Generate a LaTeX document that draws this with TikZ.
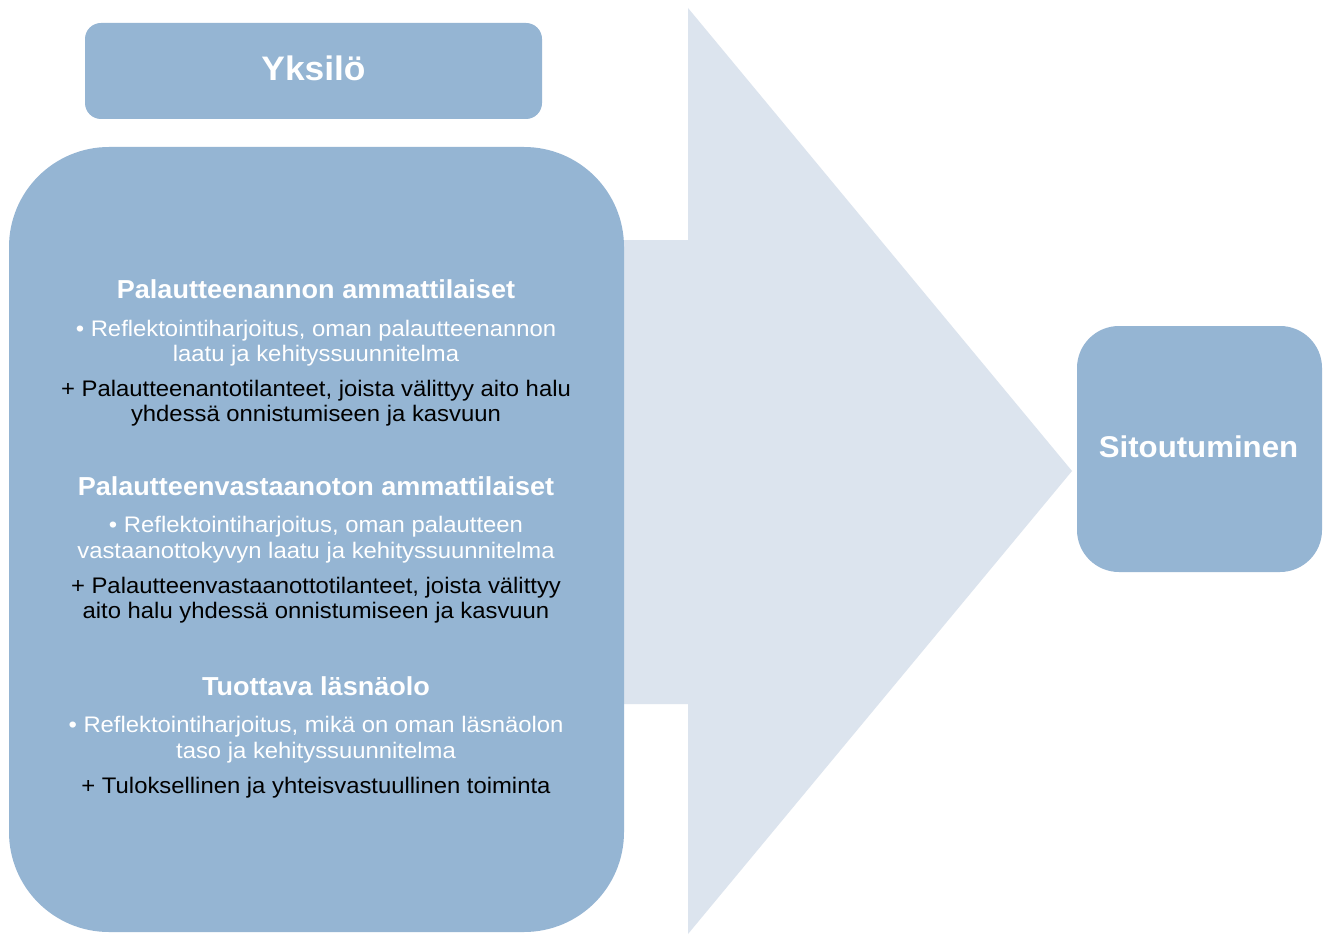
\documentclass[tikz,border=0pt]{standalone}
\usepackage{fontspec}
\setmainfont{Liberation Sans}
\newfontfamily\headfont[FakeStretch=1.04]{Liberation Sans}
\newfontfamily\bodyfont[FakeStretch=1.06]{Liberation Sans}
\definecolor{boxblue}{HTML}{95B5D3}
\definecolor{arrowgrey}{HTML}{DCE4EE}
\tikzset{
  panel/.style={fill=boxblue, draw=none, inner sep=0pt},
  head/.style={text=white, font=\headfont\fontsize{26}{29}\selectfont\bfseries, inner sep=0pt},
  note/.style={text=white, align=center, inner sep=0pt, font=\bodyfont\fontsize{22.5}{25.5}\selectfont},
  plus/.style={text=black, align=center, inner sep=0pt, font=\bodyfont\fontsize{22.5}{25.5}\selectfont},
}
\begin{document}
\begin{tikzpicture}[x=1pt, y=-1pt]
\useasboundingbox (0,0) rectangle (1325,936);
\fill[white] (0,0) rectangle (1325,936);

% broad arrow behind the main panel
\fill[arrowgrey] (600,240) -- (688,240) -- (688,8) -- (1072,471)
  -- (688,934) -- (688,704) -- (600,704) -- cycle;

% panels
\node[panel, minimum width=457pt, minimum height=96pt, rounded corners=16pt] (top) at (313.5,71) {};
\node[text=white, font=\headfont\fontsize{34}{37}\selectfont\bfseries, inner sep=0pt] (topl) at (313.5,68) {Yksilö};

\node[panel, minimum width=615pt, minimum height=785pt, rounded corners=100pt] (main) at (316.5,539.5) {};

\node[panel, minimum width=245pt, minimum height=246pt, rounded corners=42pt] (goal) at (1199.5,449) {};
\node[text=white, font=\headfont\fontsize{30}{33}\selectfont\bfseries, inner sep=0pt] (goall) at (1198.5,447) {Sitoutuminen};

% first block
\node[head] (h1) at (316,289) {Palautteenannon ammattilaiset};
\node[note] (n1) at (316,343) {• Reflektointiharjoitus, oman palautteenannon\\laatu ja kehityssuunnitelma};
\node[plus] (p1) at (316,403) {+ Palautteenantotilanteet, joista välittyy aito halu\\yhdessä onnistumiseen ja kasvuun};

% second block
\node[head] (h2) at (316,486) {Palautteenvastaanoton ammattilaiset};
\node[note] (n2) at (316,539.5) {• Reflektointiharjoitus, oman palautteen\\vastaanottokyvyn laatu ja kehityssuunnitelma};
\node[plus] (p2) at (316,600) {+ Palautteenvastaanottotilanteet, joista välittyy\\aito halu yhdessä onnistumiseen ja kasvuun};

% third block
\node[head] (h3) at (316,686) {Tuottava läsnäolo};
\node[note] (n3) at (316,739.5) {• Reflektointiharjoitus, mikä on oman läsnäolon\\taso ja kehityssuunnitelma};
\node[plus] (p3) at (316,788) {+ Tuloksellinen ja yhteisvastuullinen toiminta};
\end{tikzpicture}
\end{document}
